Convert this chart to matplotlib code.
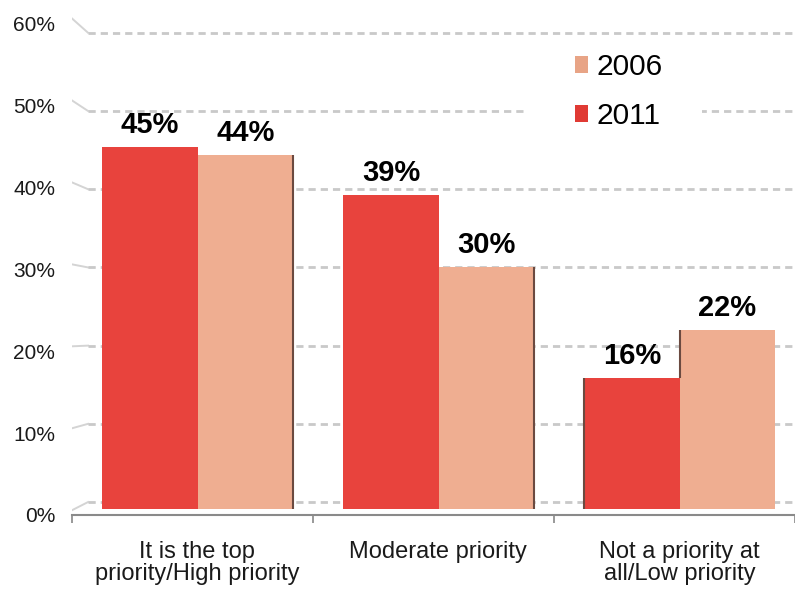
import matplotlib
matplotlib.use("Agg")
import matplotlib.pyplot as plt
from matplotlib.patches import Patch, Rectangle
from matplotlib.transforms import IdentityTransform

categories = ["It is the top\npriority/High priority", "Moderate priority", "Not a priority at\nall/Low priority"]
vals_2011 = [45, 39, 16]
vals_2006 = [44, 30, 22]
yticks = [0, 10, 20, 30, 40, 50, 60]

RED = "#E8433D"
PEACH = "#EFAE91"
EDGE = "#6b4a40"
GRID = "#c9c9c9"

plt.rcParams["font.family"] = ["Liberation Sans", "DejaVu Sans"]

fig = plt.figure(figsize=(7.95, 5.91), dpi=100)
ax = fig.add_axes([72 / 795, 76 / 591, 723 / 795, 502.8 / 591])
ax.set_xlim(-0.5, 2.5)
ax.set_ylim(-1.0, 62.0)


def front(v):
    # axis-label plane (front of the fake 3D box)
    return 1.031 * v - 1.25


def back(v):
    # back wall where the dashed gridlines sit
    return 0.376 + 0.984 * v


x0 = -0.5 + 16 / 241
for v in yticks:
    ax.plot([-0.5, x0], [front(v) + 0.6, back(v)], color="#d4d4d4", lw=1.4, zorder=1)
    ax.plot([x0, 2.5], [back(v), back(v)], color=GRID, lw=2,
            linestyle=(0, (2.6, 1.8)), zorder=1)

# white box behind the legend breaks the 50% gridline
ax.add_patch(Rectangle((527, 591 - 138), 175, 52, transform=IdentityTransform(),
                       facecolor="white", edgecolor="none", zorder=2))

w = 0.395
xs = range(len(categories))
x11 = [i - 0.176 for i in xs]
x06 = [i + 0.219 for i in xs]
ax.bar(x11, [v + 0.5 for v in vals_2011], width=w, bottom=-0.5, color=RED, zorder=3)
ax.bar(x06, [v + 0.5 for v in vals_2006], width=w, bottom=-0.5, color=PEACH, zorder=3)

# thin side faces
for i in xs:
    if i < 2:
        ax.vlines(x06[i] + w / 2, -0.5, vals_2006[i], color=EDGE, lw=1.5, zorder=4)
    else:
        ax.vlines(x11[i] - w / 2, -0.5, vals_2011[i], color=EDGE, lw=1.5, zorder=4)
        if vals_2006[i] > vals_2011[i]:
            ax.vlines(x06[i] - w / 2, vals_2011[i], vals_2006[i], color=EDGE, lw=1.5, zorder=4)

for xx, vv in list(zip(x11, vals_2011)) + list(zip(x06, vals_2006)):
    ax.annotate(f"{vv}%", (xx, vv), xytext=(0, 14), textcoords="offset pixels",
                ha="center", va="baseline", fontsize=21, fontweight="bold", color="black")

ax.set_yticks([front(v) for v in yticks])
ax.set_yticklabels([f"{v}%" for v in yticks], fontsize=15, color="#1a1a1a")
ax.tick_params(axis="y", length=0, pad=12)

ax.set_xticks([-0.5, 0.5, 1.5, 2.5])
ax.set_xticklabels([])
ax.tick_params(axis="x", which="major", length=6, width=1.2, color="#888888", direction="out")
ax.set_xticks([i + 0.02 for i in xs], minor=True)
ax.set_xticklabels(categories, minor=True, fontsize=17, color="#1a1a1a", linespacing=1.0)
ax.tick_params(axis="x", which="minor", length=0, pad=19)

for s in ["left", "right", "top"]:
    ax.spines[s].set_visible(False)
ax.spines["bottom"].set_color("#8a8a8a")
ax.spines["bottom"].set_linewidth(1.5)

handles = [Patch(facecolor="#E8A486", label="2006"), Patch(facecolor="#E03A34", label="2011")]
leg = ax.legend(handles=handles, loc="upper left", bbox_to_anchor=(569 / 795, 1 - 47 / 591),
                bbox_transform=fig.transFigure, frameon=False, fontsize=21.5,
                handlelength=0.45, handleheight=0.5, handletextpad=0.28, labelspacing=0.72,
                borderpad=0.2, borderaxespad=0)
leg.set_zorder(5)

fig.savefig("out.png", dpi=100)
